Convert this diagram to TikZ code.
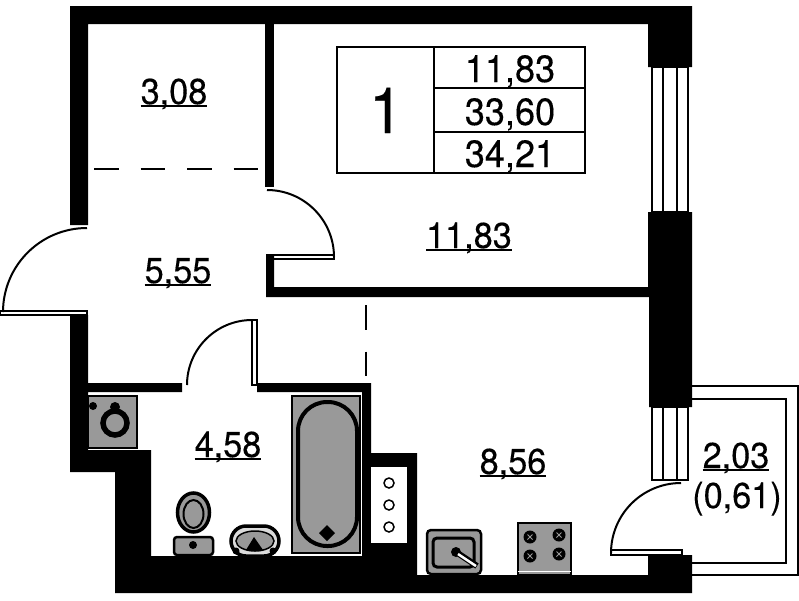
\documentclass[tikz,border=0pt]{standalone}
\usepackage{fontspec}
\setmainfont{TeX Gyre Heros}[FakeBold=0.25,FakeStretch=0.95]
\definecolor{fixgray}{HTML}{999999}
\newcommand{\areaul}[1]{\setbox0\hbox{#1}\rlap{\rule[-3.2pt]{\wd0}{2pt}}\box0}
\tikzset{
	roomtext/.style={inner sep=0pt,anchor=base,font=\fontsize{36}{38}\selectfont},
	tabletext/.style={inner sep=0pt,anchor=base,font=\fontsize{38}{40}\selectfont},
	leafline/.style={line width=2pt,draw=black,fill=white},
	tableline/.style={line width=2pt,draw=black},
	fixture/.style={line width=2.5pt,draw=black,fill=fixgray},
	dashline/.style={line width=1.3pt,dash pattern=on 24.5pt off 22pt},
}
\begin{document}
\begin{tikzpicture}[x=1pt,y=-1pt]
\useasboundingbox (0,0) rectangle (799,600);

% balcony
\draw[line width=2pt] (692,386) -- (798,386) -- (798,575) -- (692,575);
\draw[line width=2.5pt] (692,399) -- (786,399) -- (786,563) -- (692,563);

% door leaves
\draw[leafline] (0,311) rectangle (87,315);
\draw[leafline] (267,255) rectangle (334,259);
\draw[leafline] (252,320) rectangle (257,385);
\draw[leafline] (611,550) rectangle (682,555);

% door arcs
\draw[line width=2pt] (87,228) arc[start angle=90,end angle=180,radius=84pt];
\draw[line width=2pt] (267,190) arc[start angle=90,end angle=0,radius=67pt];
\draw[line width=2pt] (252,320) arc[start angle=90,end angle=180,radius=65pt];
\draw[line width=2pt] (681,483) arc[start angle=90,end angle=180,radius=70pt];

% walls
\fill (70,6) -- (692,6) -- (692,67) -- (648,67) -- (648,24) -- (88,24) -- (88,225) -- (70,225) -- cycle;
\fill (265,24) rectangle (274,187);
\fill (648,212) -- (692,212) -- (692,407) -- (649,407) -- (649,297) -- (266,297) -- (266,255) -- (274,255) -- (274,287) -- (648,287) -- cycle;
\fill (70,315) -- (88,315) -- (88,383) -- (182,383) -- (182,392) -- (88,392) -- (88,450) -- (151,450) -- (151,556) -- (362,556) -- (362,392) -- (257,392) -- (257,383) -- (371,383) -- (371,453) -- (417,453) -- (417,575) -- (648,575) -- (648,555) -- (692,555) -- (692,593) -- (115,593) -- (115,472) -- (70,472) -- cycle;

% niche
\fill[white] (371,467) rectangle (407,543);
\foreach \y in {483,505,527}
	\draw[line width=1.5pt] (389,\y) circle (5pt);

% windows
\foreach \a/\b in {67/212,407/480} {
	\draw[line width=2pt] (652,\a) rectangle (688,\b);
	\draw[line width=1.5pt] (663,\a) -- (663,\b);
	\draw[line width=1.5pt] (677,\a) -- (677,\b);
}

% dashed lines
\draw[dashline] (94,169) -- (260,169);
\draw[dashline] (366,305) -- (366,378);

% table
\draw[tableline] (337,47) rectangle (585,173);
\draw[tableline] (434,47) -- (434,173);
\draw[tableline] (434,88) -- (585,88);
\draw[line width=1.5pt] (434,132) -- (585,132);

\node[inner sep=0pt,anchor=base,font=\fontsize{64}{66}\selectfont] (numrooms) at (386,133) {1};
\node[tabletext] (livearea) at (510,82) {11,83};
\node[tabletext] (totalarea) at (510,125) {33,60};
\node[tabletext] (fullarea) at (510,167) {34,21};

% room labels
\node[roomtext] (closet) at (174,104) {\areaul{3,08}};
\node[roomtext] (room) at (469,248) {\areaul{11,83}};
\node[roomtext] (hall) at (178,283) {\areaul{5,55}};
\node[roomtext] (bath) at (228,457) {\areaul{4,58}};
\node[roomtext] (kitchen) at (513,474) {\areaul{8,56}};
\node[roomtext] (balcony) at (736,468) {\areaul{2,03}};
\node[roomtext] (balconyk) at (737,508) {(0,61)};

% washing machine
\draw[fixture] (88,396) rectangle (137,448);
\draw[line width=5.5pt,fill=fixgray] (115,423) circle (12pt);
\fill (115,407) circle (5pt);
\fill (93,406) circle (4pt);

% bath
\draw[fixture] (292,396) rectangle (360,553);
\draw[line width=4pt,fill=fixgray,rounded corners=29pt] (298,402) rectangle (357,546);
\fill (327,525) -- (335,533) -- (327,541) -- (319,533) -- cycle;

% toilet
\draw[line width=3.5pt,fill=fixgray] (193.5,512.5) ellipse (16pt and 19.5pt);
\draw[line width=2pt,draw=black,fill=fixgray] (193.5,514) ellipse (10pt and 14pt);
\draw[fixture,rounded corners=3pt] (174,537) rectangle (213,555);
\fill (193,545) circle (4pt);

% basin
\draw[line width=3.5pt,fill=fixgray!35,rounded corners=15pt] (231,556) -- (231,526) -- (279,526) -- (279,556) -- cycle;
\draw[line width=1.5pt,fill=fixgray] (255,541) ellipse (19pt and 10pt);
\fill (246,550) -- (254,537) -- (263,550) -- cycle;
\fill (236,551) circle (3.5pt);
\fill (273,551) circle (3.5pt);

% sink
\draw[fixture,rounded corners=4pt] (427,530) rectangle (481,574);
\draw[line width=3pt,rounded corners=4pt] (433,538) rectangle (474,567);
\fill (456,552) circle (5pt);
\draw[line width=6pt] (456,552) -- (477,566);
\draw[line width=2.5pt,white] (458,554) -- (476,566);

% stove
\draw[fixture] (518,523) rectangle (571,575);
\draw[line width=1pt,white] (518,571) -- (571,571);
\foreach \x/\y in {530/537,559/535,530/556,559/554} {
	\fill (\x,\y) circle (6.5pt);
	\draw[fixgray,line width=1pt] (\x-2.5,\y-2.5) -- (\x+2.5,\y+2.5);
	\draw[fixgray,line width=1pt] (\x-2.5,\y+2.5) -- (\x+2.5,\y-2.5);
}
\end{tikzpicture}
\end{document}
